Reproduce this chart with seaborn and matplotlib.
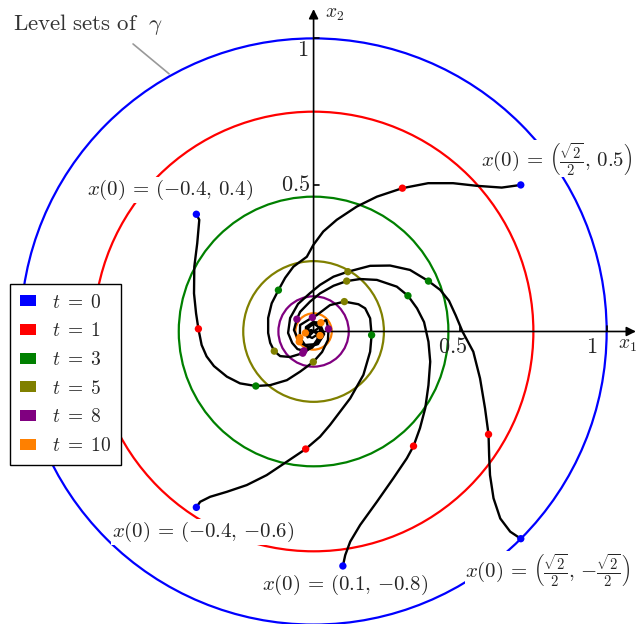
import matplotlib
matplotlib.use("Agg")
import matplotlib.pyplot as plt
from matplotlib.patches import Circle, Patch
import seaborn as sns
import pandas as pd

# level set radii and the colour used for each time stamp
times = [0, 1, 3, 5, 8, 10]
radii = [1.0, 0.75, 0.46, 0.24, 0.12, 0.062]
colors = ['#0000ff', '#ff0000', '#008000', '#808000', '#800080', '#ff8000']

# trajectories (x1, x2)
traj_a_x = [0.707, 0.642, 0.557, 0.476, 0.391, 0.303, 0.216, 0.147, 0.079, 0.033, -0.001, -0.023,
            -0.069, -0.097, -0.120, -0.143, -0.155, -0.155, -0.148, -0.134, -0.114, -0.080, -0.037,
            -0.005, 0.022, 0.022, 0.002, -0.022, -0.019, 0.0]
traj_a_y = [0.5, 0.491, 0.497, 0.506, 0.506, 0.489, 0.460, 0.426, 0.381, 0.341, 0.295, 0.255,
            0.221, 0.183, 0.141, 0.096, 0.046, -0.005, -0.039, -0.067, -0.084, -0.087, -0.074,
            -0.053, -0.014, 0.012, 0.026, 0.012, -0.009, 0.0]

traj_b_x = [-0.4, -0.390, -0.397, -0.407, -0.408, -0.401, -0.393, -0.382, -0.365, -0.340, -0.296,
            -0.251, -0.197, -0.148, -0.091, -0.046, -0.001, 0.029, 0.049, 0.051, 0.043, 0.025,
            -0.002, -0.026, -0.026, -0.005, 0.015, 0.0]
traj_b_y = [0.4, 0.381, 0.301, 0.221, 0.130, 0.062, 0.009, -0.046, -0.085, -0.118, -0.154,
            -0.177, -0.186, -0.183, -0.166, -0.137, -0.104, -0.070, -0.029, 0.009, 0.039, 0.030,
            0.032, 0.015, -0.012, -0.022, -0.009, 0.0]

traj_c_x = [-0.4, -0.387, -0.353, -0.296, -0.228, -0.160, -0.091, -0.027, 0.022, 0.056, 0.125,
            0.170, 0.193, 0.198, 0.193, 0.176, 0.153, 0.105, 0.056, 0.011, -0.004, -0.046,
            -0.047, -0.029, 0.009, 0.032, 0.022, 0.0]
traj_c_y = [-0.6, -0.581, -0.564, -0.547, -0.524, -0.490, -0.444, -0.401, -0.359, -0.319, -0.228,
            -0.148, -0.069, -0.012, 0.045, 0.079, 0.093, 0.102, 0.090, 0.056, 0.048, 0.022,
            -0.021, -0.046, -0.043, -0.015, 0.015, 0.0]

traj_d_x = [0.1, 0.108, 0.125, 0.159, 0.216, 0.272, 0.318, 0.341, 0.363, 0.381, 0.392, 0.398,
            0.392, 0.377, 0.353, 0.322, 0.284, 0.216, 0.159, 0.113, 0.068, 0.022, -0.012,
            -0.046, -0.057, -0.067, -0.049, -0.019, 0.015, 0.036, 0.022, -0.005, -0.022, 0.0]
traj_d_y = [-0.8, -0.763, -0.717, -0.660, -0.581, -0.501, -0.433, -0.391, -0.330, -0.262, -0.183,
            -0.103, -0.035, 0.032, 0.079, 0.122, 0.153, 0.176, 0.179, 0.172, 0.156, 0.130, 0.102,
            0.067, 0.042, 0.005, -0.035, -0.053, -0.043, -0.009, 0.026, 0.029, 0.005, 0.0]

traj_e_x = [0.707, 0.671, 0.637, 0.614, 0.602, 0.599, 0.597, 0.585, 0.568, 0.545, 0.508, 0.485,
            0.462, 0.432, 0.392, 0.329, 0.261, 0.193, 0.117, 0.068, 0.022, -0.012, -0.053, -0.080,
            -0.087, -0.073, -0.055, -0.033, -0.005, 0.015, 0.012, -0.008, -0.028, -0.020, 0.0]
traj_e_y = [-0.707, -0.683, -0.638, -0.569, -0.490, -0.422, -0.351, -0.262, -0.160, -0.069, 0.0,
            0.055, 0.105, 0.142, 0.172, 0.210, 0.225, 0.224, 0.204, 0.187, 0.159, 0.131, 0.094,
            0.046, -0.005, -0.039, -0.060, -0.066, -0.055, -0.030, -0.005, 0.005, -0.005, -0.020, 0.0]

# states at the marked times (same order as times)
marks_x = [[0.707, -0.4, -0.4, 0.1, 0.707],
           [0.303, -0.393, -0.027, 0.341, 0.597],
           [-0.120, -0.197, 0.198, 0.322, 0.392],
           [-0.134, -0.001, 0.105, 0.113, 0.117],
           [-0.037, 0.051, -0.004, -0.057, -0.033],
           [0.022, 0.025, -0.047, -0.049, -0.028]]
marks_y = [[0.5, 0.4, -0.6, -0.8, -0.707],
           [0.489, 0.009, -0.401, -0.391, -0.351],
           [0.141, -0.186, -0.012, 0.122, 0.172],
           [-0.067, -0.104, 0.102, 0.172, 0.204],
           [-0.074, 0.009, 0.048, 0.042, -0.066],
           [-0.014, 0.030, -0.021, -0.035, -0.005]]

init_labels = [r'$x(0)\,=\,\left(\frac{\sqrt{2}}{2},\,0.5\right)$',
               r'$x(0)\,=\,(-0.4,\,0.4)$',
               r'$x(0)\,=\,(-0.4,\,{-0.6})$',
               r'$x(0)\,=\,(0.1,\,{-0.8})$',
               r'$x(0)\,=\,\left(\frac{\sqrt{2}}{2},\,{-\frac{\sqrt{2}}{2}}\right)$']
label_pos = [(0.828, 0.590), (-0.490, 0.483), (-0.377, -0.684), (0.108, -0.865), (0.800, -0.814)]

sns.set_style('white')
plt.rcParams['font.family'] = ['DejaVu Serif']
plt.rcParams['mathtext.fontset'] = 'cm'

fig = plt.figure(figsize=(6.38, 6.24), dpi=100)
ax = fig.add_axes([0, 0, 1, 1])
ax.set_xlim(-1.07, 1.107)
ax.set_ylim(-0.998, 1.131)
ax.axis('off')

# level sets
for r, c in zip(radii, colors):
    ax.add_patch(Circle((0, 0), r, fill=False, edgecolor=c, lw=1.6, zorder=2))

# axes with arrows
ax.annotate('', xy=(1.1, 0), xytext=(0, 0), zorder=3,
            arrowprops=dict(arrowstyle='-|>', color='black', lw=1.2, mutation_scale=14, shrinkA=0, shrinkB=0))
ax.annotate('', xy=(0, 1.1), xytext=(0, 0), zorder=3,
            arrowprops=dict(arrowstyle='-|>', color='black', lw=1.2, mutation_scale=14, shrinkA=0, shrinkB=0))
for v in [0.5, 1.0]:
    ax.plot([v, v], [0, 0.02], color='black', lw=1.2, zorder=3)
    ax.plot([0, 0.02], [v, v], color='black', lw=1.2, zorder=3)
ax.text(-0.036, 0.961, r'$1$', fontsize=16, ha='center', va='center')
ax.text(-0.060, 0.500, r'$0.5$', fontsize=16, ha='center', va='center')
ax.text(0.476, -0.053, r'$0.5$', fontsize=16, ha='center', va='center')
ax.text(0.950, -0.053, r'$1$', fontsize=16, ha='center', va='center')
ax.text(1.070, -0.046, r'$x_1$', fontsize=14, ha='center', va='center')
ax.text(0.073, 1.084, r'$x_2$', fontsize=14, ha='center', va='center')

# trajectories
trajs = [(traj_a_x, traj_a_y), (traj_b_x, traj_b_y), (traj_c_x, traj_c_y),
         (traj_d_x, traj_d_y), (traj_e_x, traj_e_y)]
for tx, ty in trajs:
    df = pd.DataFrame({'x1': tx, 'x2': ty})
    sns.lineplot(data=df, x='x1', y='x2', sort=False, estimator=None, color='black',
                 lw=1.7, ax=ax, zorder=4, solid_joinstyle='round')

# marked states
for t, c, mx, my in zip(times, colors, marks_x, marks_y):
    sns.scatterplot(x=mx, y=my, color=c, s=28, edgecolor='none', ax=ax, zorder=5)

# initial condition labels
for lab, (px, py) in zip(init_labels, label_pos):
    ax.text(px, py, lab, fontsize=15, ha='center', va='center', zorder=6,
            bbox=dict(facecolor='white', edgecolor='none', pad=0.5))

# level set annotation
ax.plot([-0.616, -0.493], [0.981, 0.879], color='#999999', lw=1.2, zorder=6)
ax.text(-0.770, 1.049, r'$\mathrm{Level\ sets\ of}\ \ \gamma$', fontsize=16.5,
        ha='center', va='center', color='#333333')

handles = [Patch(facecolor=c, edgecolor='none') for c in colors]
labels = [rf'$t\;=\;{t}$' for t in times]
ax.legend(handles, labels, loc='upper left', bbox_to_anchor=(0.0157, 0.545), borderaxespad=0,
          fontsize=14, frameon=True, fancybox=False, edgecolor='black', framealpha=1,
          handlelength=0.85, handleheight=0.5, labelspacing=0.55, handletextpad=0.8,
          borderpad=0.5)

fig.savefig('out.png', dpi=100)
